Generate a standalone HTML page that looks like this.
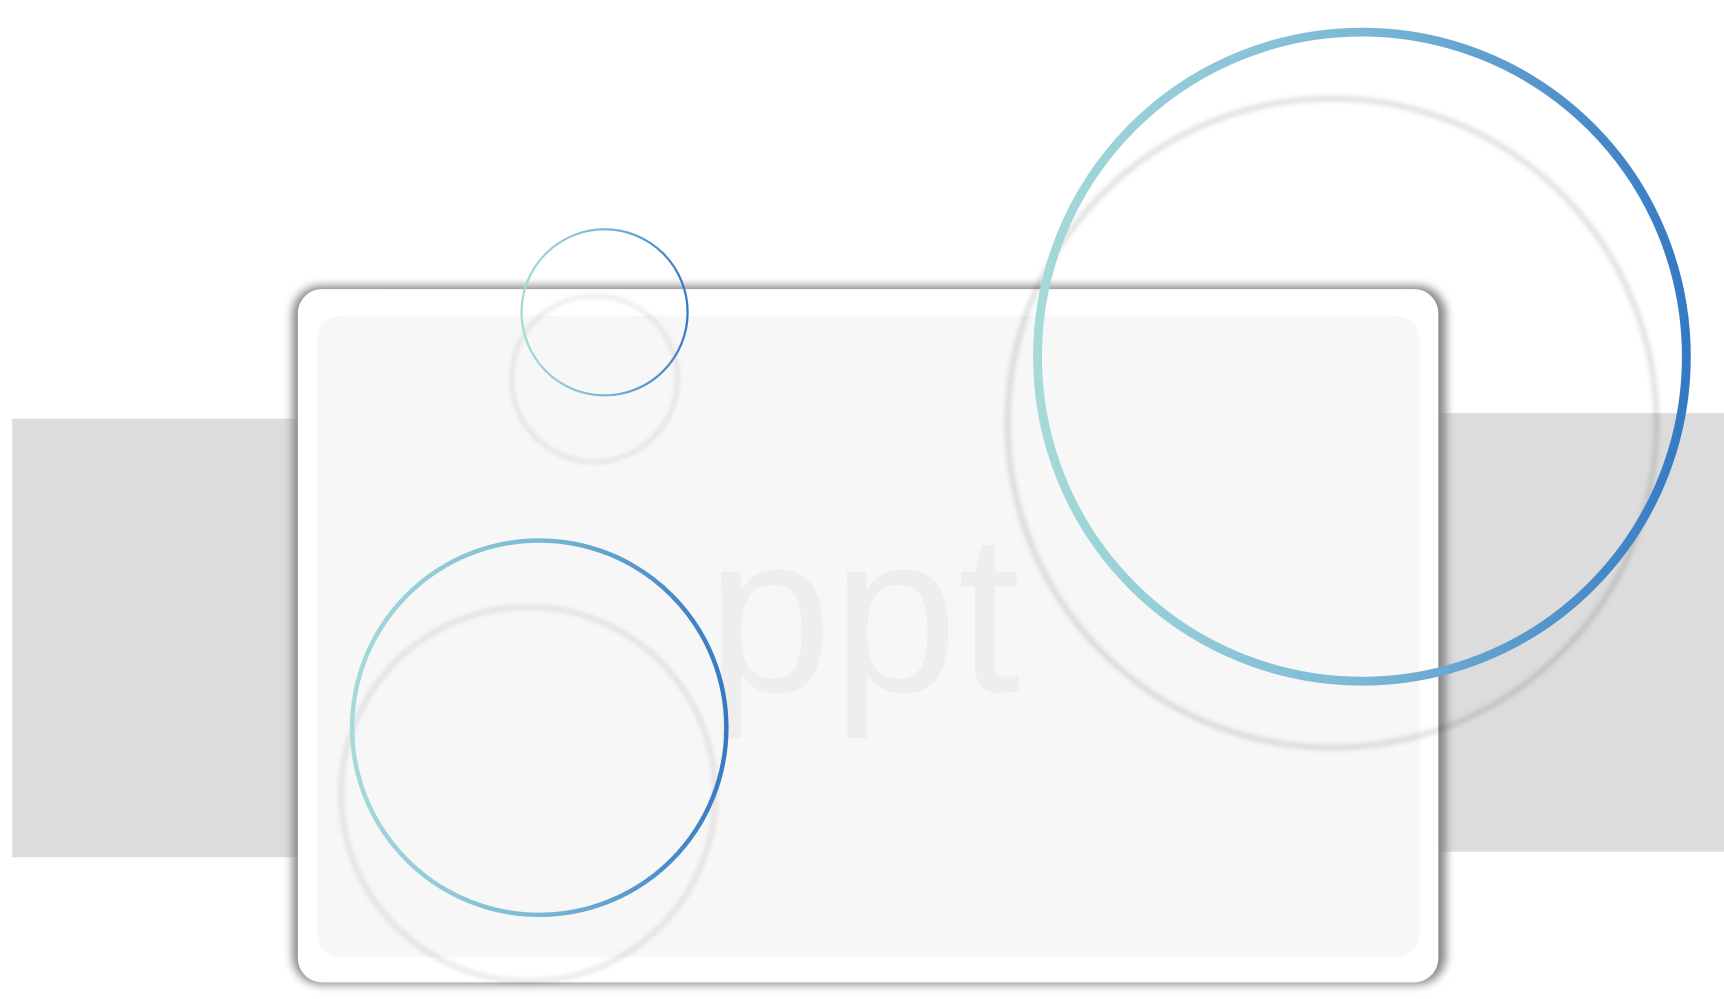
<!DOCTYPE html>
<html><head><meta charset="utf-8"><style>
html,body{margin:0;padding:0;background:#fff;overflow:hidden}
svg{display:block}
</style></head><body>
<svg width="1724" height="999" viewBox="0 0 1557 902" preserveAspectRatio="none">
<defs>
<linearGradient id="g" x1="0" y1="0" x2="1" y2="0">
<stop offset="0" stop-color="#a5dad8"/><stop offset="0.5" stop-color="#7bb8d6"/><stop offset="1" stop-color="#3579c3"/>
</linearGradient>
<filter id="blur" x="-20%" y="-20%" width="140%" height="140%"><feGaussianBlur stdDeviation="2.2"/></filter>
<filter id="sh" x="-5%" y="-5%" width="110%" height="110%"><feGaussianBlur stdDeviation="4"/></filter>
</defs>
<rect x="11" y="378" width="270" height="396" fill="#dcdcdc"/>
<rect x="1290" y="373" width="267" height="396" fill="#dcdcdc"/>
<rect x="264" y="258" width="1042" height="631" rx="26" fill="#888" filter="url(#sh)"/>
<rect x="269" y="261" width="1030" height="626" rx="22" fill="#fff"/>
<rect x="286" y="285" width="996" height="579" rx="22" fill="#f7f7f7"/>
<text x="638" y="624" font-family="Liberation Sans, sans-serif" font-size="204" fill="#eeeeee">ppt</text>
<circle cx="537" cy="342" r="75" fill="none" stroke="#000" stroke-opacity="0.1" stroke-width="3" filter="url(#blur)"/>
<circle cx="477" cy="717" r="169" fill="none" stroke="#000" stroke-opacity="0.1" stroke-width="4" filter="url(#blur)"/>
<circle cx="1203" cy="382" r="293" fill="none" stroke="#000" stroke-opacity="0.12" stroke-width="5" filter="url(#blur)"/>
<circle cx="546" cy="282" r="75" fill="none" stroke="url(#g)" stroke-width="2"/>
<circle cx="487" cy="657" r="169" fill="none" stroke="url(#g)" stroke-width="4"/>
<circle cx="1230" cy="322" r="293" fill="none" stroke="url(#g)" stroke-width="8"/>
</svg>
</body></html>
